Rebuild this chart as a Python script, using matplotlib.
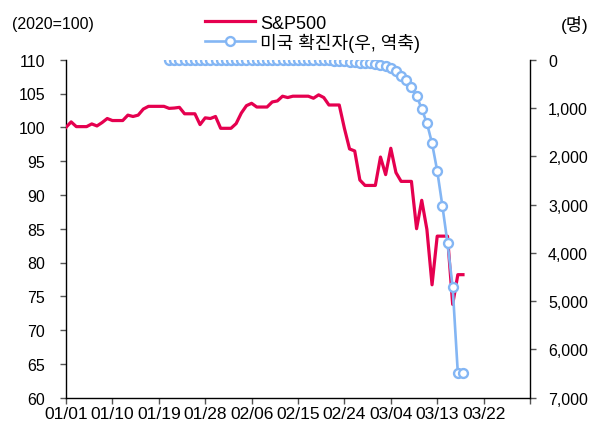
import matplotlib
matplotlib.use('Agg')
import matplotlib.pyplot as plt
import pandas as pd
from matplotlib import font_manager as fm
from matplotlib.lines import Line2D

names = {f.name for f in fm.fontManager.ttflist}
latin = 'Liberation Sans Narrow' if 'Liberation Sans Narrow' in names else 'Liberation Sans'
plt.rcParams['font.family'] = [latin, 'Noto Sans CJK KR', 'DejaVu Sans']

# ---------------- data ----------------
sp500_start = '2020-01-01'
sp500 = [100.0, 100.8, 100.1, 100.1, 100.1, 100.5, 100.2, 100.7, 101.3, 101.0,
         101.0, 101.0, 101.8, 101.6, 101.8, 102.7, 103.1, 103.1, 103.1, 103.1,
         102.8, 102.85, 102.95, 102.0, 102.0, 102.0, 100.4, 101.4, 101.3, 101.6,
         99.85, 99.85, 99.85, 100.55, 102.1, 103.2, 103.55, 103.0, 103.0, 103.0,
         103.75, 103.9, 104.6, 104.4, 104.6, 104.6, 104.6, 104.6, 104.3, 104.8,
         104.4, 103.3, 103.3, 103.3, 99.85, 96.8, 96.5, 92.2, 91.4, 91.4,
         91.4, 95.6, 93.0, 96.9, 93.3, 92.0, 92.0, 92.0, 85.0, 89.2,
         84.9, 76.7, 83.9, 83.9, 83.9, 73.8, 78.2, 78.2]

cases_start = '2020-01-21'
us_cases = [1, 1, 1, 2, 2, 5, 5, 5, 5, 5,
            6, 7, 8, 11, 11, 11, 12, 12, 12, 12,
            12, 13, 13, 13, 13, 15, 15, 15, 15, 15,
            15, 15, 35, 35, 35, 53, 57, 60, 60, 68,
            89, 110, 124, 172, 228, 331, 420, 572, 746, 1021,
            1311, 1731, 2299, 3024, 3796, 4714, 6489, 6489]

tick_dates = ['2020-01-01', '2020-01-10', '2020-01-19', '2020-01-28', '2020-02-06',
              '2020-02-15', '2020-02-24', '2020-03-04', '2020-03-13', '2020-03-22',
              '2020-03-31']
tick_labels = ['01/01', '01/10', '01/19', '01/28', '02/06', '02/15', '02/24',
               '03/04', '03/13', '03/22', '']
left_ticks = [60, 65, 70, 75, 80, 85, 90, 95, 100, 105, 110]
right_ticks = [0, 1000, 2000, 3000, 4000, 5000, 6000, 7000]
right_labels = ['0', '1,000', '2,000', '3,000', '4,000', '5,000', '6,000', '7,000']

series_names = ['S&P500', '미국 확진자(우, 역축)']
left_unit = '(2020=100)'
right_unit = '(명)'

RED = '#E5004F'
BLUE = '#84B6F4'

# ---------------- figure ----------------
fig = plt.figure(figsize=(5.91, 4.27), dpi=100)
ax = fig.add_axes([66 / 591, 1 - 398.7 / 427, (530 - 66) / 591, (398.7 - 60.7) / 427])
ax2 = ax.twinx()

sp_dates = pd.date_range(sp500_start, periods=len(sp500), freq='D')
case_dates = pd.date_range(cases_start, periods=len(us_cases), freq='D')

ax.plot(sp_dates, sp500, color=RED, lw=2.3, solid_joinstyle='round', zorder=3)
ax2.plot(case_dates, us_cases, color=BLUE, lw=1.9, marker='o', ms=6.4,
         mfc='white', mec=BLUE, mew=1.7, zorder=4)

ax.set_xlim(pd.Timestamp(tick_dates[0]), pd.Timestamp(tick_dates[-1]))
ax.set_ylim(60, 110)
ax2.set_ylim(7000, 0)

ax.set_xticks(pd.to_datetime(tick_dates))
ax.set_xticklabels(tick_labels)
ax.set_yticks(left_ticks)
ax.set_yticklabels([str(v) for v in left_ticks])
ax2.set_yticks(right_ticks)
ax2.set_yticklabels(right_labels)

for a in (ax, ax2):
    a.spines['top'].set_visible(False)
    for s in a.spines.values():
        s.set_linewidth(1.0)
        s.set_color('black')
ax.spines['right'].set_visible(False)
ax2.spines['left'].set_visible(False)
ax2.spines['bottom'].set_visible(False)

fs = 11.5
ax.tick_params(axis='x', direction='out', length=4, width=1, colors='#555555',
               labelcolor='black', labelsize=12.5, pad=2)
ax.tick_params(axis='y', direction='out', length=4, width=1, colors='#555555',
               labelcolor='black', labelsize=fs, pad=11)
ax2.tick_params(axis='y', direction='out', length=4, width=1, colors='#555555',
                labelcolor='black', labelsize=fs, pad=9)

fig.text(12 / 591, 1 - 25 / 427, left_unit, fontsize=fs, va='center', ha='left')
fig.text(588 / 591, 1 - 25 / 427, right_unit, fontsize=12.5, va='center', ha='right')

handles = [Line2D([], [], color=RED, lw=2.3),
           Line2D([], [], color=BLUE, lw=1.9, marker='o', ms=6.4, mfc='white',
                  mec=BLUE, mew=1.7)]
fig.legend(handles, series_names, loc='upper left',
           bbox_to_anchor=(192 / 591, 1 - 3 / 427), frameon=False,
           fontsize=13, handlelength=2.8, handletextpad=0.25, labelspacing=0.05,
           borderpad=0.2)

fig.savefig('out.png', dpi=100)
